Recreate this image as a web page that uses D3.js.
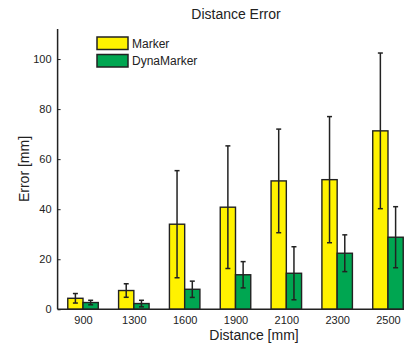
<!DOCTYPE html>
<html>
<head>
<meta charset="utf-8">
<script src="https://cdn.jsdelivr.net/npm/d3@7"></script>
<style>
  html, body { margin: 0; padding: 0; background: #fff; overflow: hidden; }
  svg { display: block; font-family: "Liberation Sans", Arial, sans-serif; }
  text { fill: #222; }
</style>
</head>
<body>
<svg id="chart" width="404" height="345"></svg>
<script>
const distances = ["900", "1300", "1600", "1900", "2100", "2300", "2500"];
const seriesNames = ["Marker", "DynaMarker"];
const markerMean = [4.4, 7.5, 34.0, 40.8, 51.3, 51.8, 71.3];
const markerStd = [1.9, 2.7, 21.4, 24.5, 20.7, 25.2, 31.1];
const dynaMean = [2.7, 2.3, 8.0, 13.8, 14.4, 22.4, 28.8];
const dynaStd = [0.9, 1.3, 3.25, 5.25, 10.6, 7.35, 12.2];
const yTicks = [0, 20, 40, 60, 80, 100];

const colors = ["#fff200", "#00a651"];
const svg = d3.select("#chart");

// axes box in pixels (right side runs off the picture, like the original crop)
const plotLeft = 57.6, plotRight = 413.4, plotTop = 29, plotBottom = 309.3;

const x = d3.scaleLinear().domain([0.5, distances.length + 0.5]).range([plotLeft, plotRight]);
const y = d3.scaleLinear().domain([0, 112]).range([plotBottom, plotTop]);
const barW = 0.3;

const series = [
  { name: seriesNames[0], mean: markerMean, std: markerStd, off: -barW / 2 },
  { name: seriesNames[1], mean: dynaMean, std: dynaStd, off: barW / 2 }
];

const g = svg.append("g");

series.forEach((s, si) => {
  const rows = distances.map((d, i) => ({ i: i + 1, m: s.mean[i], e: s.std[i] }));
  g.selectAll(".bar" + si)
    .data(rows)
    .enter().append("rect")
    .attr("x", d => x(d.i + s.off - barW / 2))
    .attr("width", x(barW) - x(0))
    .attr("y", d => y(d.m))
    .attr("height", d => y(0) - y(d.m))
    .attr("fill", colors[si])
    .attr("stroke", "#222")
    .attr("stroke-width", 1.4);

  const eb = g.selectAll(".err" + si)
    .data(rows)
    .enter().append("g")
    .attr("stroke", "#222")
    .attr("stroke-width", 1.5);
  eb.append("line")
    .attr("x1", d => x(d.i + s.off)).attr("x2", d => x(d.i + s.off))
    .attr("y1", d => y(d.m + d.e)).attr("y2", d => y(d.m - d.e));
  [1, -1].forEach(sign => {
    eb.append("line")
      .attr("x1", d => x(d.i + s.off) - 2.5).attr("x2", d => x(d.i + s.off) + 2.5)
      .attr("y1", d => y(d.m + sign * d.e)).attr("y2", d => y(d.m + sign * d.e));
  });
});

// y axis
const yAxis = svg.append("g")
  .attr("transform", `translate(${plotLeft},0)`)
  .call(d3.axisLeft(y).tickValues(yTicks).tickSize(-3).tickPadding(6));
yAxis.select(".domain").remove();
yAxis.selectAll("line").attr("stroke", "#222");
yAxis.selectAll("text").attr("font-size", 11).attr("fill", "#222");
svg.append("line")
  .attr("x1", plotLeft).attr("x2", plotLeft).attr("y1", plotTop).attr("y2", plotBottom)
  .attr("stroke", "#222").attr("stroke-width", 1.5);

// x axis
const xAxis = svg.append("g")
  .attr("transform", `translate(0,${plotBottom})`)
  .call(d3.axisBottom(x).tickValues(d3.range(1, distances.length + 1))
    .tickFormat(i => distances[i - 1]).tickSize(0).tickPadding(7));
xAxis.select(".domain").remove();
xAxis.selectAll("text").attr("font-size", 11).attr("fill", "#222");
svg.append("line")
  .attr("x1", plotLeft).attr("x2", plotRight).attr("y1", plotBottom).attr("y2", plotBottom)
  .attr("stroke", "#222").attr("stroke-width", 1.5);

// labels
svg.append("text")
  .attr("x", 236).attr("y", 18.5)
  .attr("text-anchor", "middle").attr("font-size", 14)
  .text("Distance Error");
svg.append("text")
  .attr("x", 254).attr("y", 339.5)
  .attr("text-anchor", "middle").attr("font-size", 14)
  .text("Distance [mm]");
svg.append("text")
  .attr("transform", `translate(28.5,169) rotate(-90)`)
  .attr("text-anchor", "middle").attr("font-size", 14)
  .text("Error [mm]");

// legend
const legend = svg.append("g").attr("transform", "translate(97,37)");
seriesNames.forEach((n, i) => {
  legend.append("rect")
    .attr("x", 0).attr("y", i * 17.5)
    .attr("width", 31).attr("height", 12.5)
    .attr("fill", colors[i]).attr("stroke", "#222").attr("stroke-width", 1.5);
  legend.append("text")
    .attr("x", 35).attr("y", i * 17.5 + 10.5)
    .attr("font-size", 12)
    .text(n);
});
</script>
</body>
</html>
